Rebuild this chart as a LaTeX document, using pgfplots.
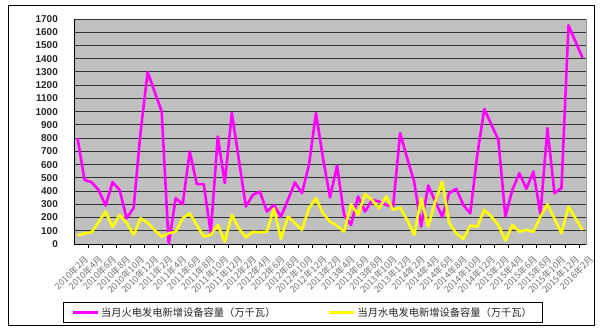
\documentclass[border=0pt]{standalone}
\usepackage{pgfplots}
\pgfplotsset{compat=1.18}
\usepackage{pgfplotstable}
\usepackage{fontspec}
\setmainfont{Liberation Sans}
\newfontfamily\cjk{Noto Sans CJK SC}
\definecolor{plotbg}{HTML}{C0C0C0}
\definecolor{mag}{HTML}{FF00FF}
\definecolor{yel}{HTML}{FFFF00}
\pgfplotstableread{
i fire hydro
0 800 65
1 485 80
2 467 88
3 409 165
4 290 245
5 467 128
6 409 220
7 194 160
8 272 70
9 850 195
10 1300 160
11 1150 105
12 1002 55
13 0 81
14 346 93
15 300 194
16 700 232
17 452 144
18 452 56
19 81 68
20 813 144
21 460 18
22 990 220
23 640 119
24 283 50
25 371 93
26 396 88
27 245 93
28 295 270
29 207 38
30 333 207
31 465 157
32 384 106
33 598 270
34 990 346
35 650 232
36 351 169
37 593 139
38 220 93
39 144 300
40 359 220
41 245 376
42 333 333
43 321 270
44 295 359
45 283 258
46 838 275
47 649 182
48 470 68
49 131 346
50 442 131
51 321 321
52 207 472
53 384 157
54 417 81
55 295 38
56 232 139
57 674 131
58 1020 258
59 902 207
60 788 144
61 207 25
62 409 144
63 535 93
64 417 106
65 548 93
66 225 207
67 876 300
68 384 194
69 422 81
70 1652 283
71 1530 194
72 1407 106
}\datatable
\begin{document}
\begin{tikzpicture}[x=1bp,y=1bp]
\fill[white] (0,0) rectangle (600,331);
\draw[black, line width=1bp] (8,5.5) rectangle (594,325.3);
\begin{axis}[
  at={(74bp,87bp)}, anchor=south west,
  width=512bp, height=225bp, scale only axis,
  xmin=-0.5, xmax=72.5, ymin=0, ymax=1700,
  axis x line*=bottom, axis y line*=left,
  x axis line style={-, black, line width=1bp},
  y axis line style={-, black, line width=1bp},
  axis background/.style={fill=plotbg, draw=black!40},
  ytick={0,100,...,1700},
  ymajorgrids,
  major grid style={black!80, line width=0.9bp},
  xtick={0,2,...,72},
  xticklabels={2010年2月,2010年4月,2010年6月,2010年8月,2010年10月,2010年12月,
    2011年2月,2011年4月,2011年6月,2011年8月,2011年10月,2011年12月,
    2012年2月,2012年4月,2012年6月,2012年8月,2012年10月,2012年12月,
    2013年2月,2013年4月,2013年6月,2013年8月,2013年10月,2013年12月,
    2014年2月,2014年4月,2014年6月,2014年8月,2014年10月,2014年12月,
    2015年2月,2015年4月,2015年6月,2015年8月,2015年10月,2015年12月,
    2016年2月},
  minor xtick={1.5,3.5,...,71.5},
  major tick length=0pt,
  minor tick length=4bp,
  tick align=outside,
  tick style={black, line width=0.9bp},
  /pgf/number format/assume math mode=true,
  /pgf/number format/1000 sep={},
  yticklabel style={font=\fontsize{10}{12}\selectfont\bfseries, text=black!85, anchor=east, inner sep=0pt, xshift=-16bp},
  xticklabel style={font=\cjk\fontsize{9}{10}\selectfont, text=black!55, rotate=45, anchor=east, inner sep=0pt, xshift=-3bp, yshift=-16bp},
  legend style={at={(axis description cs:0.4463,-0.3044)}, anchor=center,
    legend columns=2, draw=black, line width=0.8bp, fill=white,
    font=\cjk\fontsize{10.3}{12}\selectfont, text=black!85,
    inner xsep=8bp, inner ysep=2.5bp,
    /tikz/every even column/.append style={column sep=50bp}},
  legend image code/.code={\draw[#1, line width=3bp] (0bp,0bp) -- (25bp,0bp);},
]
\addplot[mag, line width=2.6bp, line join=round] table[x=i, y=fire] {\datatable};
\addlegendentry{当月火电发电新增设备容量（万千瓦）}
\addplot[yel, line width=2.6bp, line join=round] table[x=i, y=hydro] {\datatable};
\addlegendentry{当月水电发电新增设备容量（万千瓦）}
\end{axis}
\end{tikzpicture}
\end{document}
